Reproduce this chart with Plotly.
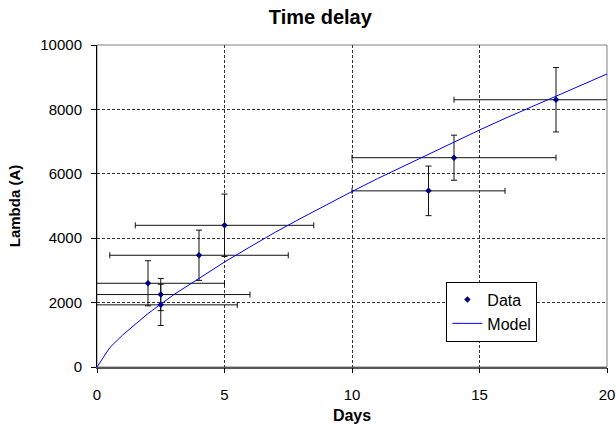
import plotly.graph_objects as go

# Data points (Days, Lambda) with symmetric error bars
days = [2, 2.5, 2.5, 4, 5, 13, 14, 18]
lam = [2600, 2250, 1930, 3470, 4400, 5470, 6500, 8300]
days_err = [3, 3.5, 3, 3.5, 3.5, 3, 4, 4]
lam_err = [700, 500, 640, 780, 970, 770, 700, 1000]

# Model curve
model_days = [0, 0.5, 1, 2, 3, 4, 5, 6, 7, 8, 9, 10, 11, 12, 13, 14, 15, 16, 17, 18, 19, 20]
model_lam = [0, 600, 990, 1660, 2240, 2760, 3260, 3730, 4190, 4620, 5040, 5450,
             5850, 6230, 6620, 6990, 7360, 7720, 8070, 8420, 8760, 9100]

x_ticks = [0, 5, 10, 15, 20]
y_ticks = [0, 2000, 4000, 6000, 8000, 10000]
x_range = [0, 20]
y_range = [0, 10000]

FONT = "Liberation Sans, Arial, sans-serif"

fig = go.Figure()

fig.add_trace(go.Scatter(
    x=days, y=lam, mode="markers", name="Data",
    marker=dict(symbol="diamond", size=5, color="#000080"),
    error_x=dict(type="data", array=days_err, visible=True, color="#111111", thickness=1, width=3),
    error_y=dict(type="data", array=lam_err, visible=True, color="#111111", thickness=1, width=3),
))

fig.add_trace(go.Scatter(
    x=model_days, y=model_lam, mode="lines", name="Model",
    line=dict(color="#0000FF", width=1), xaxis="x2", yaxis="y2",
))

fig.add_shape(type="rect", xref="paper", yref="paper", x0=0, y0=0, x1=1, y1=1,
              line=dict(color="#808080", width=1), layer="below")

fig.update_layout(
    width=616, height=430,
    margin=dict(l=97, r=9, t=45, b=63),
    paper_bgcolor="white", plot_bgcolor="white",
    font=dict(family=FONT, size=15, color="black"),
    title=dict(text="<b>Time delay</b>", x=0.52, xanchor="center", y=0.96, yanchor="middle",
               font=dict(family=FONT, size=20, color="black")),
    showlegend=True,
    legend=dict(x=0.685, y=0.265, xanchor="left", yanchor="top",
                bgcolor="white", bordercolor="black", borderwidth=1,
                font=dict(family=FONT, size=16, color="black"),
                itemwidth=30, tracegroupgap=0),
    xaxis=dict(
        range=x_range, tickvals=x_ticks, ticktext=[str(v) for v in x_ticks],
        showline=True, linecolor="#555555", linewidth=2,
        ticks="", ticklabelstandoff=13,
        showgrid=True, gridcolor="#333333", gridwidth=1, griddash="3px,2px",
        zeroline=False, automargin=False,
        title=dict(text="<b>Days</b>", font=dict(family=FONT, size=16), standoff=8),
        tickfont=dict(family=FONT, size=15),
    ),
    yaxis=dict(
        range=y_range, tickvals=y_ticks, ticktext=[str(v) for v in y_ticks],
        showline=True, linecolor="black", linewidth=1,
        ticks="", ticklabelstandoff=11,
        showgrid=True, gridcolor="#333333", gridwidth=1, griddash="3px,2px",
        zeroline=False, automargin=False,
        title=dict(text="<b>Lambda (A)</b>", font=dict(family=FONT, size=15), standoff=16),
        tickfont=dict(family=FONT, size=15),
    ),
    xaxis2=dict(
        range=x_range, tickvals=x_ticks, overlaying="x", anchor="y2", side="bottom",
        showticklabels=False, ticks="outside", ticklen=5, tickwidth=1, tickcolor="black",
        showgrid=False, zeroline=False, showline=False, automargin=False,
    ),
    yaxis2=dict(
        range=y_range, tickvals=y_ticks, overlaying="y", anchor="x2", side="left",
        showticklabels=False, ticks="outside", ticklen=5, tickwidth=1, tickcolor="black",
        showgrid=False, zeroline=False, showline=False, automargin=False,
    ),
)

fig.write_html("out.html", config={"displayModeBar": False},
               post_script="document.body.style.margin='0px';")
